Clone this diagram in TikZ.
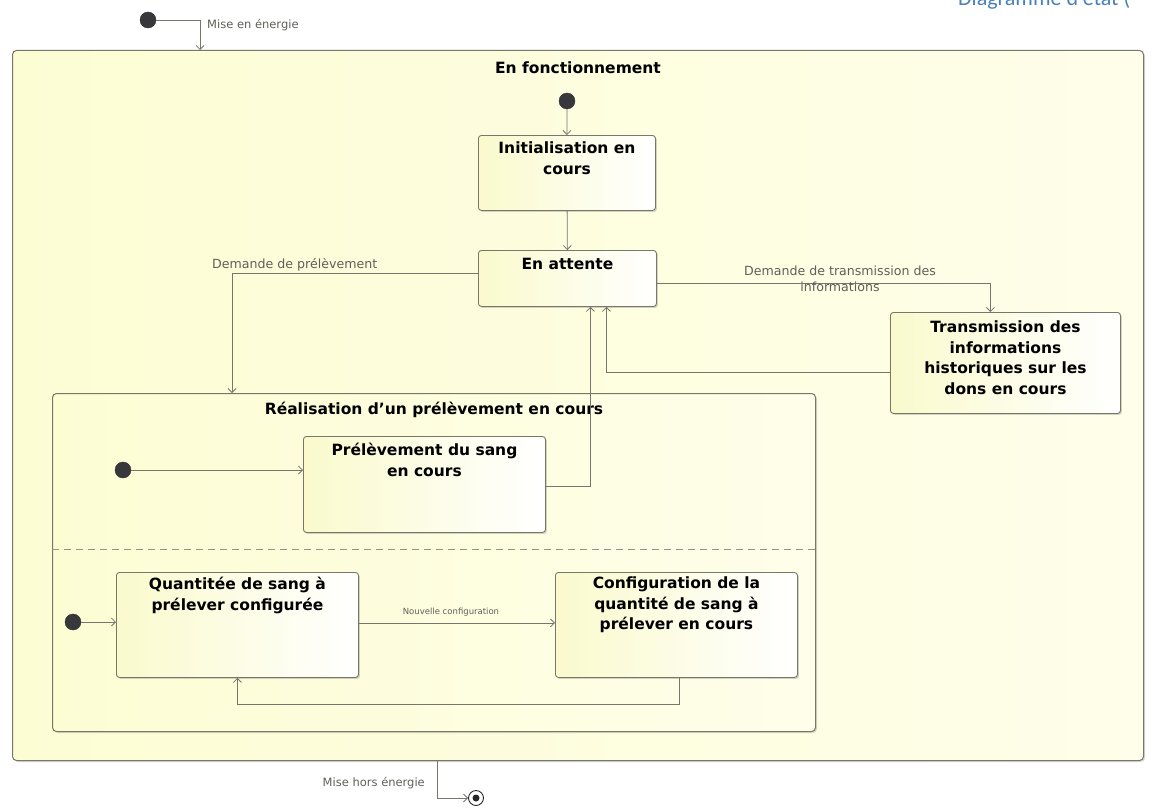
\documentclass[tikz,border=0pt]{standalone}
\usepackage{fontspec}
\setmainfont{DejaVu Sans}
\newfontfamily\hdrfont{Carlito}
\usetikzlibrary{arrows.meta,shadows,calc}

\definecolor{edgecol}{RGB}{120,120,104}
\definecolor{linecol}{RGB}{118,118,108}
\definecolor{lblcol}{RGB}{95,95,90}
\definecolor{outerL}{RGB}{253,253,212}
\definecolor{outerR}{RGB}{254,254,234}
\definecolor{stateL}{RGB}{250,250,205}
\definecolor{dotcol}{RGB}{55,55,60}
\definecolor{hdrcol}{RGB}{72,130,185}

\tikzset{
  regionbox/.style={draw=edgecol, line width=1pt, rounded corners=4pt,
    left color=outerL, right color=outerR, anchor=north west, inner sep=0pt,
    drop shadow={shadow xshift=1.5pt, shadow yshift=-1.5pt, opacity=.3}},
  statebox/.style={draw=edgecol, line width=0.9pt, rounded corners=3pt,
    left color=stateL, right color=white, anchor=north west, inner sep=0pt,
    drop shadow={shadow xshift=1.5pt, shadow yshift=-1.5pt, opacity=.35}},
  boxtext/.style={anchor=north, align=center, inner sep=2pt,
    font=\bfseries\fontsize{15.5}{20.5}\selectfont},
  lbl/.style={text=lblcol, inner sep=1pt},
  startdot/.style={circle, fill=dotcol, draw=black!80, minimum size=16pt, inner sep=0pt},
  trans/.style={draw=linecol, line width=0.8pt,
    -{Straight Barb[length=4pt,width=8pt]}},
}

\begin{document}
\begin{tikzpicture}[x=1pt, y=-1pt]
\useasboundingbox[fill=white] (0,0) rectangle (1153,808);

% page heading, partly cut by the top edge
\node[anchor=base west, inner sep=0pt, text=hdrcol,
      font=\hdrfont\fontsize{22}{24}\selectfont] (heading) at (958,6) {Diagramme d'état (};

% composite state: En fonctionnement
\node[regionbox, minimum width=1131pt, minimum height=710pt] (outer) at (12,50) {};
\node[boxtext] (outerT) at ($(outer.north)+(0,10)$) {En fonctionnement};

% power on
\node[startdot] (top0) at (148,20) {};
\draw[trans] (top0) -| ($(outer.north west)+(188,0)$);
\node[lbl, anchor=west, font=\fontsize{11.5}{13}\selectfont] (lblOn) at (206,25) {Mise en énergie};

% initialisation and idle
\node[startdot] (init0) at (567,101) {};
\node[statebox, minimum width=177pt, minimum height=75pt] (init) at (478,135) {};
\node[boxtext] (initT) at ($(init.north)+(0,5)$) {Initialisation en\\cours};
\draw[trans] (init0) -- (init);

\node[statebox, minimum width=178pt, minimum height=56pt] (att) at (478,250) {};
\node[boxtext] (attT) at ($(att.north)+(0,6)$) {En attente};
\draw[trans] (init) -- (att);

% history transmission
\node[statebox, minimum width=230pt, minimum height=101pt] (trans) at (890,312) {};
\node[boxtext] (transT) at ($(trans.north)+(0,7)$) {Transmission des\\informations\\historiques sur les\\dons en cours};
\draw[trans] ($(att.east)+(0,5)$) -| ($(trans.north)+(-15,0)$);
\node[lbl, align=center, font=\fontsize{12.6}{15.5}\selectfont] (lblTr) at (840,279) {Demande de transmission des\\informations};
\draw[trans] ($(trans.west)+(0,9)$) -| ($(att.south)+(39,0)$);

% composite state: sampling in progress
\node[regionbox, minimum width=763pt, minimum height=338pt] (real) at (52,393) {};
\node[boxtext] (realT) at ($(real.north)+(0,7)$) {Réalisation d'un prélèvement en cours};
\draw[trans] ($(att.west)+(0,-5)$) -| ($(real.north west)+(180,0)$);
\node[lbl, anchor=west, font=\fontsize{12.6}{14}\selectfont] (lblDp) at (211,265) {Demande de prélèvement};

% upper region: blood sampling
\node[startdot] (p0) at (123,470) {};
\node[statebox, minimum width=242pt, minimum height=96pt] (prel) at (303,436) {};
\node[boxtext] (prelT) at ($(prel.north)+(0,5)$) {Prélèvement du sang\\en cours};
\draw[trans] (p0) -- (p0 -| prel.west);
\draw[trans] ($(prel.east)+(0,2)$) -| ($(att.south)+(23,0)$);

% region separator
\draw[edgecol!80, line width=0.9pt, dash pattern=on 7pt off 5pt]
  ($(real.west)+(0,-13)$) -- ($(real.east)+(0,-13)$);

% lower region: quantity configuration
\node[startdot] (q0) at (73,622) {};
\node[statebox, minimum width=242pt, minimum height=105pt] (qty) at (116,572) {};
\node[boxtext] (qtyT) at ($(qty.north)+(0,3)$) {Quantitée de sang à\\prélever configurée};
\draw[trans] (q0) -- (q0 -| qty.west);

\node[statebox, minimum width=242pt, minimum height=105pt] (cfg) at (555,572) {};
\node[boxtext] (cfgT) at ($(cfg.north)+(0,3)$) {Configuration de la\\quantité de sang à\\prélever en cours};
\draw[trans] ($(qty.east)+(0,-2)$) -- ($(cfg.west)+(0,-2)$);
\node[lbl, font=\fontsize{8.5}{10}\selectfont] (lblNc) at (451,612) {Nouvelle configuration};
\draw[trans] ($(cfg.south)+(3,0)$) -- ++(0,26) -| (qty.south);

% power off
\node[circle, draw=black!85, line width=0.9pt, minimum size=15pt, inner sep=0pt] (fin) at (476,798) {};
\node[circle, fill=black!85, minimum size=7pt, inner sep=0pt] (finIn) at (fin) {};
\draw[trans] ($(outer.south west)+(425,0)$) |- (fin.west);
\node[lbl, anchor=east, font=\fontsize{11.5}{13}\selectfont] (lblOff) at (426,783) {Mise hors énergie};
\end{tikzpicture}
\end{document}
